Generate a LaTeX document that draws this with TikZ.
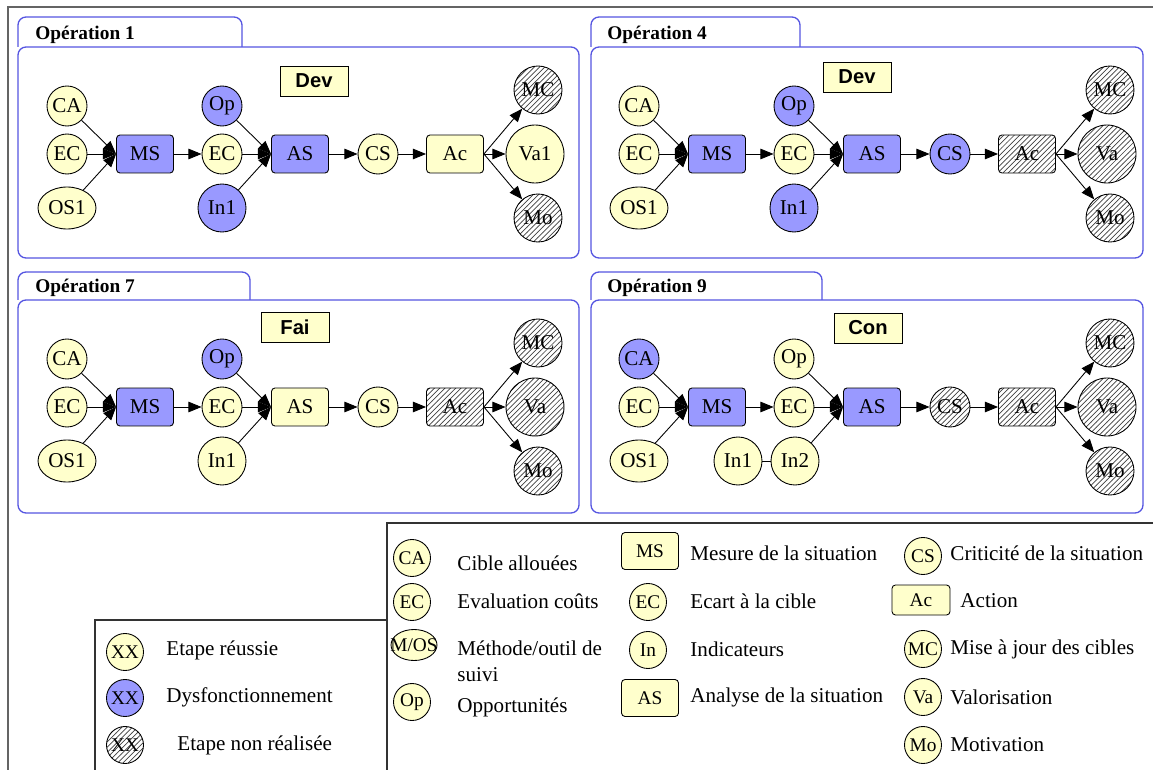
\documentclass[tikz,border=0pt]{standalone}
\usepackage{fontspec}
\setmainfont{Liberation Serif}
\setsansfont{Liberation Sans}
\usetikzlibrary{positioning}
\usetikzlibrary{shapes.geometric,patterns,arrows.meta}
\definecolor{okfill}{RGB}{255,255,204}
\definecolor{dysfill}{RGB}{153,153,255}
\definecolor{panelblue}{RGB}{85,85,225}
\definecolor{framegray}{RGB}{100,100,100}
\tikzstyle{done}=[draw, fill=okfill]
\tikzstyle{fault}=[draw, fill=dysfill]
\tikzstyle{undone}=[draw, pattern=north east lines, pattern color=black!75]
\tikzstyle{etape}=[circle, minimum size=0.8cm, inner sep=0pt, font=\fontsize{12}{14}\selectfont]
\tikzstyle{bigetape}=[circle, minimum size=0.96cm, inner sep=0pt, font=\fontsize{12}{14}\selectfont]
\tikzstyle{value}=[circle, minimum size=1.16cm, inner sep=0pt, font=\fontsize{12}{14}\selectfont]
\tikzstyle{tool}=[ellipse, minimum width=1.16cm, minimum height=0.84cm, inner sep=0pt, font=\fontsize{12}{14}\selectfont]
\tikzstyle{measure}=[rectangle, rounded corners=2pt, minimum width=1.14cm, minimum height=0.76cm, font=\fontsize{12}{14}\selectfont]
\tikzstyle{tag}=[draw, fill=okfill, minimum width=1.36cm, minimum height=0.6cm, font=\fontsize{11.5}{13}\selectfont\sffamily\bfseries]
\tikzstyle{title}=[anchor=west, inner sep=0pt, font=\fontsize{11}{13}\selectfont\bfseries]
\tikzstyle{key}=[circle, minimum size=0.74cm, inner sep=0pt]
\tikzstyle{keyrect}=[rectangle, rounded corners=2pt, minimum width=1.14cm, minimum height=0.74cm]
\tikzstyle{keytext}=[anchor=west, inner sep=0pt, align=left, font=\fontsize{12}{15}\selectfont]
\tikzstyle{panel}=[draw=panelblue, line width=0.75pt, rounded corners=0.16cm]
\tikzstyle{arrow}=[-{Triangle[length=7.5pt,width=6pt]}]
\tikzstyle{line}=[]
\tikzstyle{border}=[draw=framegray, line width=1pt]
\tikzstyle{keybox}=[draw=black!80, line width=0.7pt]

\begin{document}
\begin{tikzpicture}[x=0.02cm, y=-0.02cm, line width=0.5pt, font=\fontsize{11}{13}\selectfont]
      \useasboundingbox (0,0) rectangle (1153,770);

      % frames
      \path[border] (8,775) -- (8,7) -- (1160,7);
      \path[keybox] (387,775) -- (387,523) -- (1160,523);
      \path[keybox] (95,775) -- (95,620) -- (387,620);

      \path[panel] (18,47) -- (18,17) -- (242,17) -- (242,47);
      \path[panel] (18,47) rectangle (579,258);
      \path[panel] (591,47) -- (591,17) -- (800,17) -- (800,47);
      \path[panel] (591,47) rectangle (1143,258);
      \path[panel] (18,300) -- (18,272) -- (250,272) -- (250,300);
      \path[panel] (18,300) rectangle (579,513);
      \path[panel] (591,300) -- (591,272) -- (822,272) -- (822,300);
      \path[panel] (591,300) rectangle (1143,513);

      % Operation 1
      \begin{scope}
        \node[title] (aTitle) at (35,35) {Opération 1};
        \node[tag] (aTag) at (314,81) {Dev};
        \node[etape, done] (aCA) at (67,106) {CA};
        \node[etape, done] (aEC) at (67,154) {EC};
        \node[tool, done] (aOS) at (67,208) {OS1};
        \node[measure, fault] (aMS) at (145,154) {MS};
        \node[etape, fault] (aOp) at (222,106) {Op};
        \node[etape, done] (aECb) at (222,154) {EC};
        \node[bigetape, fault] (aIn) at (222,208) {In1};
        \node[measure, fault] (aAS) at (300,154) {AS};
        \node[etape, done] (aCS) at (378,154) {CS};
        \node[measure, done] (aAc) at (455,154) {Ac};
        \node[bigetape, undone] (aMC) at (538,90) {MC};
        \node[value, done] (aVa) at (535,154) {Va1};
        \node[bigetape, undone] (aMo) at (538,218) {Mo};
      \end{scope}

      % Operation 4
      \begin{scope}[shift={(572,0)}]
        \node[title] (bTitle) at (35,35) {Opération 4};
        \node[tag] (bTag) at (285,77) {Dev};
        \node[etape, done] (bCA) at (67,106) {CA};
        \node[etape, done] (bEC) at (67,154) {EC};
        \node[tool, done] (bOS) at (67,208) {OS1};
        \node[measure, fault] (bMS) at (145,154) {MS};
        \node[etape, fault] (bOp) at (222,106) {Op};
        \node[etape, done] (bECb) at (222,154) {EC};
        \node[bigetape, fault] (bIn) at (222,208) {In1};
        \node[measure, fault] (bAS) at (300,154) {AS};
        \node[etape, fault] (bCS) at (378,154) {CS};
        \node[measure, undone] (bAc) at (455,154) {Ac};
        \node[bigetape, undone] (bMC) at (538,90) {MC};
        \node[value, undone] (bVa) at (535,154) {Va};
        \node[bigetape, undone] (bMo) at (538,218) {Mo};
      \end{scope}

      % Operation 7
      \begin{scope}[shift={(0,253)}]
        \node[title] (cTitle) at (35,35) {Opération 7};
        \node[tag] (cTag) at (295,74) {Fai};
        \node[etape, done] (cCA) at (67,106) {CA};
        \node[etape, done] (cEC) at (67,154) {EC};
        \node[tool, done] (cOS) at (67,208) {OS1};
        \node[measure, fault] (cMS) at (145,154) {MS};
        \node[etape, fault] (cOp) at (222,106) {Op};
        \node[etape, done] (cECb) at (222,154) {EC};
        \node[bigetape, done] (cIn) at (222,208) {In1};
        \node[measure, done] (cAS) at (300,154) {AS};
        \node[etape, done] (cCS) at (378,154) {CS};
        \node[measure, undone] (cAc) at (455,154) {Ac};
        \node[bigetape, undone] (cMC) at (538,90) {MC};
        \node[value, undone] (cVa) at (535,154) {Va};
        \node[bigetape, undone] (cMo) at (538,218) {Mo};
      \end{scope}

      % Operation 9
      \begin{scope}[shift={(572,253)}]
        \node[title] (dTitle) at (35,35) {Opération 9};
        \node[tag] (dTag) at (296,75) {Con};
        \node[etape, fault] (dCA) at (67,106) {CA};
        \node[etape, done] (dEC) at (67,154) {EC};
        \node[tool, done] (dOS) at (67,208) {OS1};
        \node[measure, fault] (dMS) at (145,154) {MS};
        \node[etape, done] (dOp) at (222,106) {Op};
        \node[etape, done] (dECb) at (222,154) {EC};
        \node[bigetape, done] (dInOne) at (166,208) {In1};
        \node[bigetape, done] (dIn) at (223,208) {In2};
        \node[measure, fault] (dAS) at (300,154) {AS};
        \node[etape, undone] (dCS) at (378,154) {CS};
        \node[measure, undone] (dAc) at (455,154) {Ac};
        \node[bigetape, undone] (dMC) at (538,90) {MC};
        \node[value, undone] (dVa) at (535,154) {Va};
        \node[bigetape, undone] (dMo) at (538,218) {Mo};
      \end{scope}

      \foreach \p in {a,b,c,d}{
        \foreach \n in {CA,EC,OS}{
          \draw[arrow] (\p\n) -- (\p MS.west);
        }
        \foreach \n in {Op,ECb,In}{
          \draw[arrow] (\p\n) -- (\p AS.west);
        }
        \foreach \n in {MC,Va,Mo}{
          \draw[arrow] (\p Ac.east) -- (\p\n);
        }
        \draw[arrow] (\p MS) -- (\p ECb);
        \draw[arrow] (\p AS) -- (\p CS);
        \draw[arrow] (\p CS) -- (\p Ac);
      }
      \draw[line] (dInOne) -- (dIn);

      % legend
      \node[key, done] (kCA) at (412,558) {CA};
      \node[keytext] (tCA) at (457,563) {Cible allouées};
      \node[key, done] (kEC) at (412,602) {EC};
      \node[keytext] (tEC) at (457,601) {Evaluation coûts};
      \node[ellipse, done, minimum width=0.92cm, minimum height=0.62cm, inner sep=0pt] (kOS) at (414,645) {\makebox[0pt]{M/OS}};
      \node[keytext] (tOS) at (457,661) {Méthode/outil de\\suivi};
      \node[key, done] (kOp) at (412,702) {Op};
      \node[keytext] (tOp) at (457,707) {Opportunités};

      \node[keyrect, done] (kMS) at (650,551) {MS};
      \node[keytext] (tMS) at (690,553) {Mesure de la situation};
      \node[key, done] (kECb) at (648,602) {EC};
      \node[keytext] (tECb) at (690,601) {Ecart à la cible};
      \node[key, done] (kIn) at (648,650) {In};
      \node[keytext] (tIn) at (690,649) {Indicateurs};
      \node[keyrect, done] (kAS) at (650,698) {AS};
      \node[keytext] (tAS) at (690,697) {Analyse de la situation};

      \node[key, done] (kCS) at (923,556) {CS};
      \node[keytext] (tCS) at (950,553) {Criticité de la situation};
      \node[keyrect, done, minimum width=1.16cm, minimum height=0.6cm] (kAc) at (921,600) {Ac};
      \node[keytext] (tAc) at (960,601) {Action};
      \node[key, done] (kMC) at (923,649) {MC};
      \node[keytext] (tMC) at (950,649) {Mise à jour des cibles};
      \node[key, done] (kVa) at (923,697) {Va};
      \node[keytext] (tVa) at (950,697) {Valorisation};
      \node[key, done] (kMo) at (923,745) {Mo};
      \node[keytext] (tMo) at (950,745) {Motivation};

      \node[key, done] (kDone) at (125,652) {XX};
      \node[keytext] (tDone) at (166,650) {Etape réussie};
      \node[key, fault] (kFault) at (125,698) {XX};
      \node[keytext] (tFault) at (166,697) {Dysfonctionnement};
      \node[key, undone] (kUndone) at (125,745) {XX};
      \node[keytext] (tUndone) at (177,745) {Etape non réalisée};

    \end{tikzpicture}
\end{document}
